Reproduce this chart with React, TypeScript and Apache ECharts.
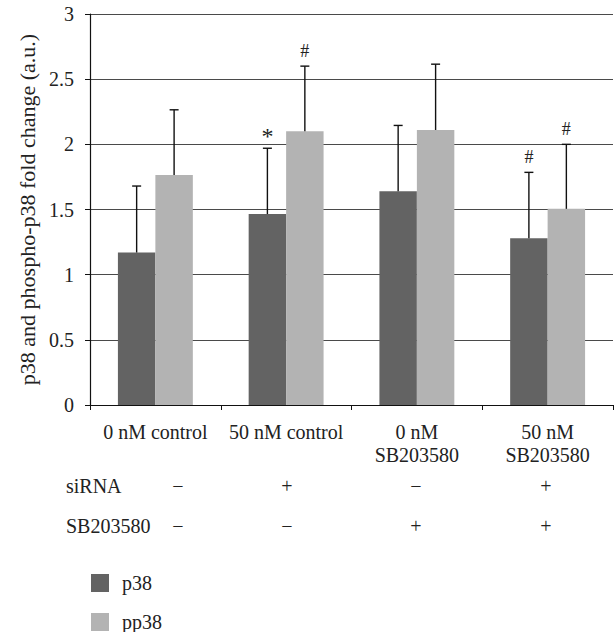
import React, { useEffect, useRef } from "react";
import * as echarts from "echarts";

const categories = ["0 nM control", "50 nM control", "0 nM\nSB203580", "50 nM\nSB203580"];
const p38Values = [1.17, 1.465, 1.64, 1.28];
const pp38Values = [1.765, 2.1, 2.11, 1.505];
const p38ErrTop = [1.68, 1.97, 2.145, 1.785];
const pp38ErrTop = [2.265, 2.6, 2.615, 2.0];
const p38Marks = ["", "*", "", "#"];
const pp38Marks = ["", "#", "", "#"];
const yTicks = { min: 0, max: 3, interval: 0.5 };
const rowLabels = ["siRNA", "SB203580"];
const siRNARow = ["−", "+", "−", "+"];
const sbRow = ["−", "−", "+", "+"];

const FONT = "Liberation Serif";
const CAT_GAP = 0.427;
const signXs = [178, 287, 416, 546];
const rowYs = [486, 526];

function errorSeries(name: string, values: number[], tops: number[], marks: string[], side: number) {
  return {
    type: "custom",
    name: name + "-err",
    z: 5,
    silent: true,
    renderItem: (params: any, api: any) => {
      const ci = api.value(0);
      const base = api.coord([ci, api.value(1)]);
      const top = api.coord([ci, api.value(2)]);
      const band = api.size([1, 0])[0];
      const bw = (band * (1 - CAT_GAP)) / 2;
      const x = base[0] + (side * bw) / 2;
      const mark = marks[params.dataIndex];
      const children: any[] = [
        { type: "line", shape: { x1: x, y1: base[1], x2: x, y2: top[1] }, style: { stroke: "#111", lineWidth: 1.4 } },
        { type: "line", shape: { x1: x - 4.5, y1: top[1], x2: x + 4.5, y2: top[1] }, style: { stroke: "#111", lineWidth: 1.4 } },
      ];
      if (mark) {
        const star = mark === "*";
        children.push({
          type: "text",
          x: x,
          y: top[1] - (star ? 0 : 6),
          style: {
            text: mark,
            fill: "#222",
            font: `${star ? 24 : 18}px "Liberation Serif"`,
            align: "center",
            verticalAlign: "bottom",
          },
        });
      }
      return { type: "group", children };
    },
    data: values.map((v, i) => [i, v, tops[i]]),
  };
}

function txt(text: string, x: number, y: number, align: string) {
  return {
    type: "text",
    x,
    y,
    style: { text, fill: "#222", font: '20px "Liberation Serif"', align, verticalAlign: "middle" },
  };
}

const rowsSeries = {
  type: "custom",
  coordinateSystem: "none",
  silent: true,
  z: 6,
  data: [0],
  renderItem: () => {
    const children: any[] = [txt(rowLabels[0], 66, rowYs[0], "left"), txt(rowLabels[1], 66, rowYs[1], "left")];
    siRNARow.forEach((s, i) => children.push(txt(s, signXs[i], rowYs[0], "center")));
    sbRow.forEach((s, i) => children.push(txt(s, signXs[i], rowYs[1], "center")));
    return { type: "group", children };
  },
};

export default function App() {
  const ref = useRef<HTMLDivElement>(null);
  useEffect(() => {
    document.body.style.margin = "0";
    const chart = echarts.init(ref.current!, null, { renderer: "svg" });
    const legendBase = {
      orient: "vertical",
      left: 91,
      padding: 0,
      itemWidth: 18,
      itemHeight: 18,
      icon: "rect",
      textStyle: { fontSize: 20, color: "#222", fontFamily: FONT, padding: [0, 0, 0, 8] },
    };
    chart.setOption({
      animation: false,
      backgroundColor: "#fff",
      textStyle: { fontFamily: FONT },
      grid: { left: 90, right: 1, top: 14, bottom: 227, containLabel: false },
      legend: [
        { ...legendBase, top: 573, data: ["p38"] },
        { ...legendBase, top: 612, data: ["pp38"] },
      ],
      xAxis: {
        type: "category",
        data: categories,
        axisLine: { lineStyle: { color: "#111", width: 1.2 } },
        axisTick: { show: true, length: 5, inside: false, lineStyle: { color: "#111" } },
        axisLabel: { interval: 0, margin: 15, fontSize: 20, lineHeight: 23, color: "#222", fontFamily: FONT },
      },
      yAxis: {
        type: "value",
        min: yTicks.min,
        max: yTicks.max,
        interval: yTicks.interval,
        name: "p38 and phospho-p38 fold change (a.u.)",
        nameLocation: "middle",
        nameGap: 46,
        nameTextStyle: { fontSize: 22, color: "#222", fontFamily: FONT },
        axisLine: { show: true, lineStyle: { color: "#111", width: 1.2 } },
        axisTick: { show: true, length: 5, lineStyle: { color: "#111" } },
        axisLabel: { margin: 16, fontSize: 20, color: "#222", fontFamily: FONT },
        splitLine: { show: true, lineStyle: { color: "#4a4a4a", width: 1 } },
      },
      series: [
        { type: "bar", name: "p38", data: p38Values, itemStyle: { color: "#636363" }, barGap: "0%", barCategoryGap: CAT_GAP * 100 + "%" },
        { type: "bar", name: "pp38", data: pp38Values, itemStyle: { color: "#b3b3b3" } },
        errorSeries("p38", p38Values, p38ErrTop, p38Marks, -1),
        errorSeries("pp38", pp38Values, pp38ErrTop, pp38Marks, 1),
        rowsSeries,
      ],
    });
    return () => chart.dispose();
  }, []);
  return <div ref={ref} style={{ width: 614, height: 632 }} />;
}
